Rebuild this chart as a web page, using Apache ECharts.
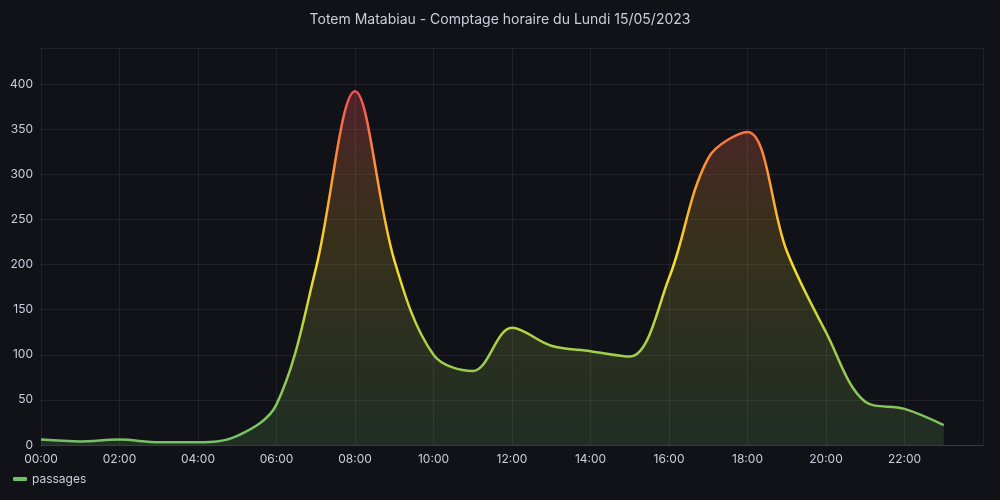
<!DOCTYPE html>
<html><head><meta charset="utf-8">
<script src="https://cdn.jsdelivr.net/npm/echarts@6/dist/echarts.min.js"></script>
<style>html,body{margin:0;background:#111217}#c{width:1000px;height:500px}</style>
</head><body><div id="c"></div>
<script>
const hours = [0,1,2,3,4,5,6,7,8,9,10,11,12,13,14,15,16,17,18,19,20,21,22,23];
const passages = [6,4,6,3,3,10,45,195,392,205,100,82,130,110,104,98,185,318,347,215,125,48,40,22];
const xTicks = ['00:00','02:00','04:00','06:00','08:00','10:00','12:00','14:00','16:00','18:00','20:00','22:00'];
const data = hours.map((h,i)=>[h,passages[i]]);
const chart = echarts.init(document.getElementById('c'));
chart.setOption({
  backgroundColor:'#111217',
  title:{text:'Totem Matabiau - Comptage horaire du Lundi 15/05/2023',left:'center',top:8,
    textStyle:{color:'#ccccdc',fontSize:14,fontWeight:'normal',fontFamily:'Inter'}},
  grid:{left:41,right:17,top:48,bottom:55},
  legend:{left:8,bottom:10,itemWidth:14,itemHeight:4,icon:'roundRect',
    textStyle:{color:'#ccccdc',fontSize:12,fontFamily:'Inter'},data:[{name:'passages',itemStyle:{color:'#73BF69'}}]},
  visualMap:{show:false,type:'continuous',dimension:1,seriesIndex:0,min:0,max:400,
    inRange:{color:['#73BF69','#9fce4a','#FADE2A','#FF9830','#F2495C']}},
  xAxis:{type:'value',min:0,max:24,interval:2,
    axisLine:{show:true,lineStyle:{color:'#3a3b40'}},axisTick:{show:false},
    splitLine:{lineStyle:{color:'rgba(204,204,220,0.09)'}},
    axisLabel:{color:'#ccccdc',fontFamily:'Inter',fontSize:12,
      formatter:v=>v>=24?'':xTicks[v/2]}},
  yAxis:{type:'value',min:0,max:440,interval:50,
    axisLine:{show:false},axisTick:{show:false},
    splitLine:{lineStyle:{color:'rgba(204,204,220,0.09)'}},
    axisLabel:{color:'#ccccdc',fontFamily:'Inter',fontSize:12,formatter:v=>v%50===0?v:''}},
  series:[{name:'passages',type:'line',smooth:0.35,showSymbol:false,data:data,
    lineStyle:{width:2.5},
    areaStyle:{opacity:1,color:new echarts.graphic.LinearGradient(0,0,0,1,[
      {offset:0,color:'rgba(242,73,92,0.28)'},
      {offset:0.45,color:'rgba(200,170,40,0.2)'},
      {offset:1,color:'rgba(115,191,105,0.16)'}])}}]
});
</script></body></html>
